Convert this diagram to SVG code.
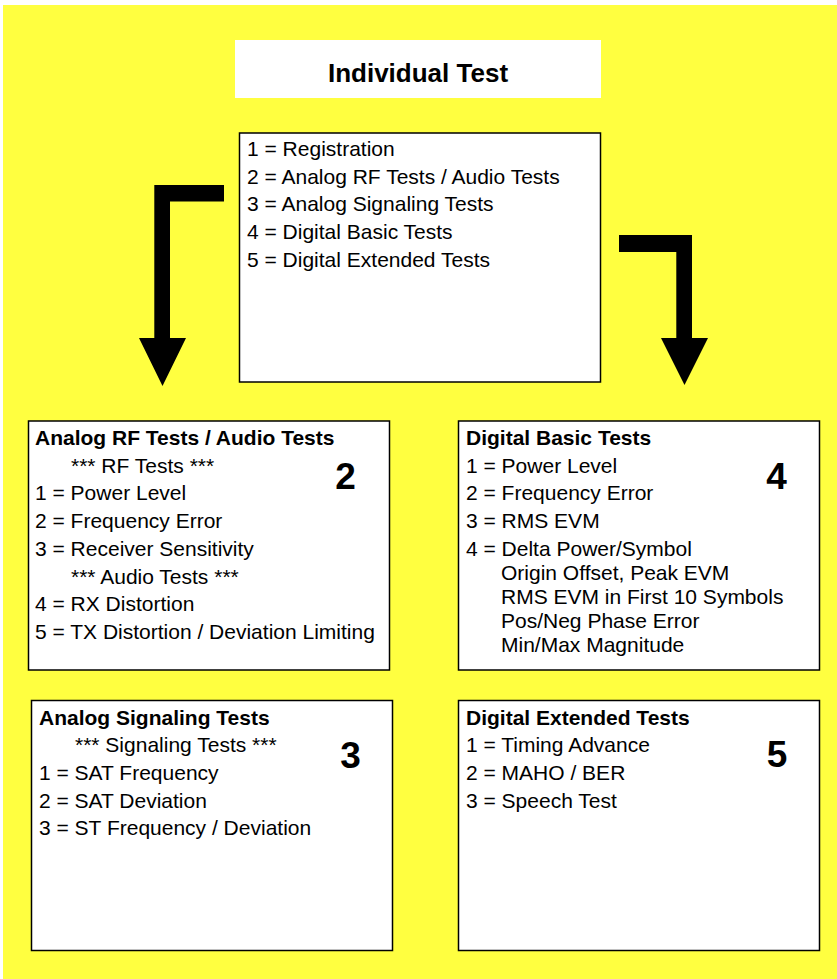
<svg xmlns="http://www.w3.org/2000/svg" width="837" height="979" viewBox="0 0 837 979">
  <style>
    .panel { fill: #ffffff; stroke: #000000; stroke-width: 1.5; }
    .txt { font-family: "Liberation Sans", Arial, sans-serif; font-size: 21px; fill: #000000; }
    .head { font-family: "Liberation Sans", Arial, sans-serif; font-size: 21px; font-weight: bold; fill: #000000; }
    .num { font-family: "Liberation Sans", Arial, sans-serif; font-size: 37px; font-weight: bold; fill: #000000; text-anchor: middle; }
    .arrow { fill: #000000; stroke: none; }
  </style>

  <!-- page background -->
  <rect x="0" y="0" width="837" height="979" fill="#ffffff"/>
  <rect x="3" y="5" width="834" height="974" fill="#ffff40"/>

  <!-- title -->
  <g id="title">
    <rect x="235" y="40" width="366" height="58" fill="#ffffff"/>
    <text x="418" y="81.5" text-anchor="middle" font-family="Liberation Sans, Arial, sans-serif" font-size="26" font-weight="bold">Individual Test</text>
  </g>

  <!-- main menu -->
  <g id="menu">
    <rect class="panel" x="239.5" y="133" width="361" height="249"/>
    <text class="txt" x="247" y="156">1 = Registration</text>
    <text class="txt" x="247" y="183.7">2 = Analog RF Tests / Audio Tests</text>
    <text class="txt" x="247" y="211.4">3 = Analog Signaling Tests</text>
    <text class="txt" x="247" y="239.1">4 = Digital Basic Tests</text>
    <text class="txt" x="247" y="266.8">5 = Digital Extended Tests</text>
  </g>

  <!-- connectors -->
  <g id="connectors">
    <polygon class="arrow" points="224,185 154.3,185 154.3,338 139,338 162.5,386 186,338 170,338 170,201.5 224,201.5"/>
    <polygon class="arrow" points="619,235 692,235 692,338 708,338 684.5,385 661,338 676.3,338 676.3,252 619,252"/>
  </g>

  <!-- menu 2 -->
  <g id="analog-rf-audio">
    <rect class="panel" x="28.5" y="421" width="361" height="249"/>
    <text class="head" x="35" y="445">Analog RF Tests / Audio Tests</text>
    <text class="txt" x="71" y="472.7">*** RF Tests ***</text>
    <text class="txt" x="35" y="500.4">1 = Power Level</text>
    <text class="txt" x="35" y="528.1">2 = Frequency Error</text>
    <text class="txt" x="35" y="555.8">3 = Receiver Sensitivity</text>
    <text class="txt" x="71" y="583.5">*** Audio Tests ***</text>
    <text class="txt" x="35" y="611.2">4 = RX Distortion</text>
    <text class="txt" x="35" y="638.9">5 = TX Distortion / Deviation Limiting</text>
    <text class="num" x="345.5" y="489">2</text>
  </g>

  <!-- menu 4 -->
  <g id="digital-basic">
    <rect class="panel" x="458.5" y="421" width="361" height="249"/>
    <text class="head" x="466" y="445">Digital Basic Tests</text>
    <text class="txt" x="466" y="472.7">1 = Power Level</text>
    <text class="txt" x="466" y="500.4">2 = Frequency Error</text>
    <text class="txt" x="466" y="528.1">3 = RMS EVM</text>
    <text class="txt" x="466" y="555.8">4 = Delta Power/Symbol</text>
    <text class="txt" x="501" y="579.8">Origin Offset, Peak EVM</text>
    <text class="txt" x="501" y="603.8">RMS EVM in First 10 Symbols</text>
    <text class="txt" x="501" y="627.8">Pos/Neg Phase Error</text>
    <text class="txt" x="501" y="651.8">Min/Max Magnitude</text>
    <text class="num" x="776.5" y="489">4</text>
  </g>

  <!-- menu 3 -->
  <g id="analog-signaling">
    <rect class="panel" x="31.5" y="700.5" width="361" height="250"/>
    <text class="head" x="39" y="724.5">Analog Signaling Tests</text>
    <text class="txt" x="75" y="752.2">*** Signaling Tests ***</text>
    <text class="txt" x="39" y="779.9">1 = SAT Frequency</text>
    <text class="txt" x="39" y="807.6">2 = SAT Deviation</text>
    <text class="txt" x="39" y="835.3">3 = ST Frequency / Deviation</text>
    <text class="num" x="350.5" y="768">3</text>
  </g>

  <!-- menu 5 -->
  <g id="digital-extended">
    <rect class="panel" x="458.5" y="700.5" width="361" height="250"/>
    <text class="head" x="466" y="724.5">Digital Extended Tests</text>
    <text class="txt" x="466" y="752.2">1 = Timing Advance</text>
    <text class="txt" x="466" y="779.9">2 = MAHO / BER</text>
    <text class="txt" x="466" y="807.6">3 = Speech Test</text>
    <text class="num" x="777" y="767">5</text>
  </g>
</svg>
